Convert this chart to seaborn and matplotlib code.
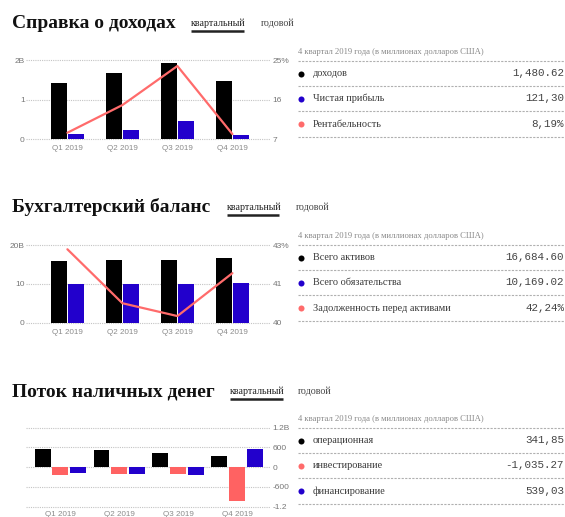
import numpy as np
import pandas as pd
import matplotlib
matplotlib.use("Agg")
import matplotlib.pyplot as plt
import seaborn as sns

# ---------------- data ----------------
quarters = ["Q1 2019", "Q2 2019", "Q3 2019", "Q4 2019"]

# income statement (billions USD, margin %)
revenue = [1.42, 1.68, 1.92, 1.48062]
net_income = [0.127, 0.24, 0.46, 0.1213]
margin = [8.5, 14.8, 23.7, 8.19]

# balance sheet (billions USD, %)
total_assets = [15.9, 16.1, 16.1, 16.6846]
total_liabilities = [10.0, 10.0, 9.9, 10.16902]
debt_to_assets = [43.32, 40.88, 40.30, 42.24]

# cash flow (millions USD)
operating = [540, 518, 418, 341.85]
investing = [-223, -204, -204, -1035.27]
financing = [-173, -204, -223, 539.03]

inc_left_ticks = [0, 1, 2]
inc_left_labels = ["0", "1", "2B"]
inc_right_ticks = [7, 16, 25]
inc_right_labels = ["7", "16", "25%"]

bal_left_ticks = [0, 10, 20]
bal_left_labels = ["0", "10", "20B"]
bal_right_ticks = [40, 41.75, 43.5]
bal_right_labels = ["40", "41", "43%"]

cf_ticks = [-1200, -600, 0, 600, 1200]
cf_labels = ["-1.2", "-600", "0", "600", "1.2B"]

titles = ["Справка о доходах", "Бухгалтерский баланс", "Поток наличных денег"]
tab_main = "квартальный"
tab_alt = "годовой"
header = "4 квартал 2019 года (в миллионах долларов США)"

inc_rows = ["доходов", "Чистая прибыль", "Рентабельность"]
inc_vals = ["1,480.62", "121,30", "8,19%"]
bal_rows = ["Всего активов", "Всего обязательства", "Задолженность перед активами"]
bal_vals = ["16,684.60", "10,169.02", "42,24%"]
cf_rows = ["операционная", "инвестирование", "финансирование"]
cf_vals = ["341,85", "-1,035.27", "539,03"]

BLACK = "#000000"
BLUE = "#2200cc"
SALMON = "#ff6262"
LINE = "#ff6b6b"

# ---------------- style ----------------
sns.set_theme(style="white")
plt.rcParams["font.family"] = ["Liberation Sans", "DejaVu Sans"]

W, H = 565, 517
fig = plt.figure(figsize=(W / 100, H / 100), dpi=100)


def add_px_axes(l, t, r, b):
    return fig.add_axes([l / W, 1 - b / H, (r - l) / W, (b - t) / H])


def style_axes(ax):
    for s in ax.spines.values():
        s.set_visible(False)
    ax.set_xlabel("")
    ax.set_ylabel("")


def bars(ax, series, names, colors, width, gap):
    df = pd.DataFrame({
        "quarter": quarters * len(series),
        "value": np.concatenate([np.asarray(s, float) for s in series]),
        "series": np.repeat(names, len(quarters)),
    })
    sns.barplot(data=df, x="quarter", y="value", hue="series", palette=colors,
                width=width, gap=gap, saturation=1, linewidth=0, edgecolor="none",
                legend=False, ax=ax)
    ax.set_axisbelow(True)
    ax.yaxis.grid(True, color="#c4c4c4", linestyle=(0, (1, 1)), linewidth=0.8)
    ax.xaxis.grid(False)
    ax.tick_params(axis="x", length=0, pad=2.5, labelsize=5.8, labelcolor="#8a8a8a")
    ax.tick_params(axis="y", length=0, pad=1, labelsize=6.0, labelcolor="#777777")
    style_axes(ax)


# ---------------- chart 1: income ----------------
ax1 = add_px_axes(26, 58, 270, 142)
bars(ax1, [revenue, net_income], ["rev", "net"], [BLACK, BLUE], 0.62, 0.06)
ax1.set_ylim(-0.068, 2.058)
ax1.set_yticks(inc_left_ticks, inc_left_labels)
ax1b = ax1.twinx()
sns.lineplot(x=np.arange(len(quarters)), y=margin, ax=ax1b, color=LINE, lw=1.6)
ax1b.set_ylim(6.385, 25.52)
ax1b.set_yticks(inc_right_ticks, inc_right_labels)
ax1b.tick_params(axis="y", length=0, pad=2, labelsize=6.0, labelcolor="#777777")
style_axes(ax1b)
ax1.set_xlim(-0.753, 3.684)

# ---------------- chart 2: balance ----------------
ax2 = add_px_axes(26, 243, 270, 325.5)
bars(ax2, [total_assets, total_liabilities], ["a", "l"], [BLACK, BLUE], 0.62, 0.06)
ax2.set_ylim(-0.72, 20.59)
ax2.set_yticks(bal_left_ticks, bal_left_labels)
ax2b = ax2.twinx()
sns.lineplot(x=np.arange(len(quarters)), y=debt_to_assets, ax=ax2b, color=LINE, lw=1.6)
ax2b.set_ylim(39.873, 43.604)
ax2b.set_yticks(bal_right_ticks, bal_right_labels)
ax2b.tick_params(axis="y", length=0, pad=2, labelsize=6.0, labelcolor="#777777")
style_axes(ax2b)
ax2.set_xlim(-0.753, 3.684)

# ---------------- chart 3: cash flow ----------------
ax3 = add_px_axes(26, 425, 270, 509)
bars(ax3, [operating, investing, financing], ["o", "i", "f"],
     [BLACK, SALMON, BLUE], 0.9, 0.1)
ax3.set_ylim(-1270, 1282)
ax3.yaxis.tick_right()
ax3.set_yticks(cf_ticks, cf_labels)
ax3.tick_params(axis="y", length=0, pad=2, labelsize=6.0, labelcolor="#777777")
ax3.tick_params(axis="x", pad=1.5)
ax3.set_xlim(-0.582, 3.56)

# ---------------- overlay text / tables ----------------
ov = fig.add_axes([0, 0, 1, 1])
ov.set_xlim(0, W)
ov.set_ylim(H, 0)
ov.axis("off")
ov.patch.set_alpha(0)

serif = ["Liberation Serif", "DejaVu Serif"]
mono = ["Liberation Mono", "DejaVu Sans Mono"]

title_base = [28.3, 212, 396.7]
tab_base = [26.5, 209.5, 393.5]
tab_x = [(191, 244, 261), (227, 279, 296), (230, 283, 298)]
underline_y = [30.8, 214.5, 398.5]
table_y0 = [61, 245, 428]
row_sets = [(inc_rows, inc_vals, [BLACK, BLUE, LINE]),
            (bal_rows, bal_vals, [BLACK, BLUE, LINE]),
            (cf_rows, cf_vals, [BLACK, LINE, BLUE])]

for i in range(3):
    ov.text(12, title_base[i], titles[i], family=serif, weight="bold",
            fontsize=14.0, color="#111111", va="baseline", ha="left")
    x0, x1, xg = tab_x[i]
    ov.text(x0, tab_base[i], tab_main, family=serif, fontsize=7.2,
            color="#222222", va="baseline", ha="left")
    ov.plot([x0, x1], [underline_y[i]] * 2, color="#222222", lw=1.8,
            solid_capstyle="butt")
    ov.text(xg, tab_base[i], tab_alt, family=serif, fontsize=7.2,
            color="#444444", va="baseline", ha="left")

    y0 = table_y0[i]
    step = 25.2
    ov.text(298, y0 - 6.7, header, family=serif, fontsize=6.2,
            color="#8a8a8a", va="baseline", ha="left")
    for k in range(4):
        ov.plot([298, 565], [y0 + step * k] * 2, color="#b0b0b0", lw=0.8,
                linestyle=(0, (2, 1.2)))
    labels, vals, cols = row_sets[i]
    for k in range(3):
        yc = y0 + step * (k + 0.5)
        ov.scatter([300.5], [yc], s=19, color=cols[k], linewidths=0)
        ov.text(313, yc + 2.6, labels[k], family=serif, fontsize=7.4,
                color="#3a3a3a", va="baseline", ha="left")
        ov.text(564, yc + 2.6, vals[k], family=mono, fontsize=7.8,
                color="#444444", va="baseline", ha="right")

fig.savefig("out.png", dpi=100)
